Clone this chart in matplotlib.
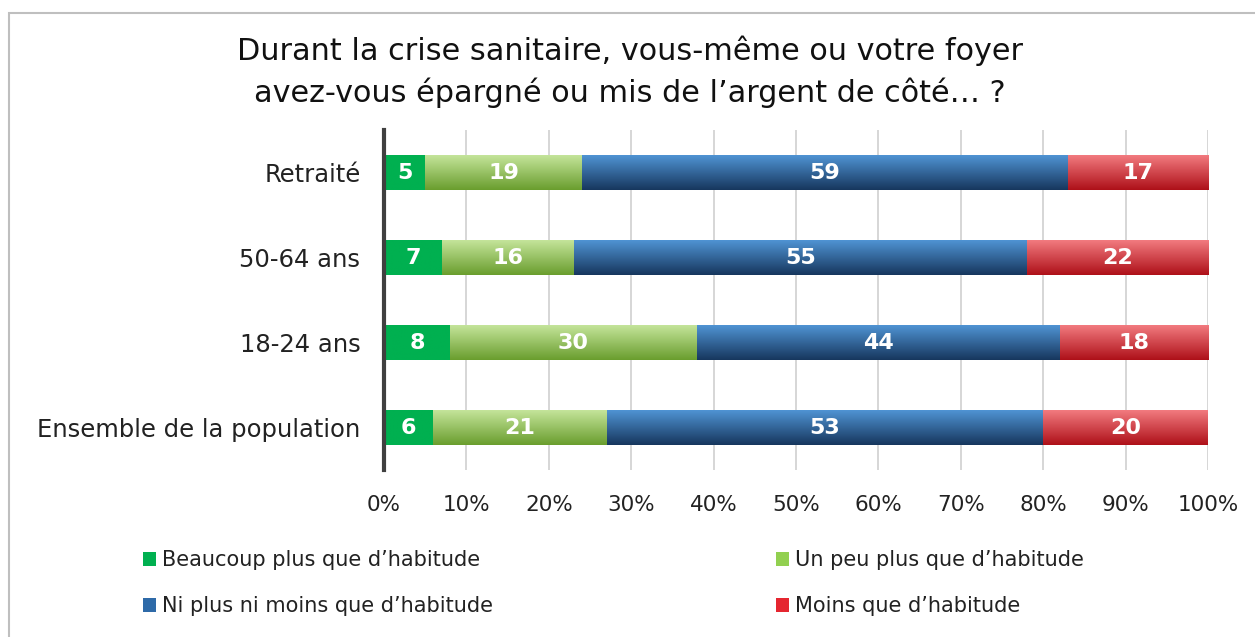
import numpy as np
import matplotlib.pyplot as plt
from matplotlib.colors import LinearSegmentedColormap
from matplotlib.patches import Rectangle

categories = ["Ensemble de la population", "18-24 ans", "50-64 ans", "Retraité"]
series_names = ["Beaucoup plus que d\u2019habitude", "Un peu plus que d\u2019habitude",
                "Ni plus ni moins que d\u2019habitude", "Moins que d\u2019habitude"]
beaucoup = [6, 8, 7, 5]
un_peu = [21, 30, 16, 19]
ni_ni = [53, 44, 55, 59]
moins = [20, 18, 22, 17]
xticks = [0, 10, 20, 30, 40, 50, 60, 70, 80, 90, 100]

series = [beaucoup, un_peu, ni_ni, moins]
# (top colour, bottom colour) of the gradient for each series
grads = [("#00B050", "#00B050"),
         ("#C4E49A", "#6A9E2E"),
         ("#4F93D3", "#17375E"),
         ("#F27A7F", "#AE1119")]
solid = ["#00B050", "#92D050", "#2E6AA8", "#E52630"]

plt.rcParams['font.family'] = ['DejaVu Sans']
fig = plt.figure(figsize=(12.55, 6.37), dpi=100)
ax = fig.add_axes([0.306, 0.2614, 0.6566, 0.5338])

y = np.arange(len(categories))
left = np.zeros(len(categories))
for s, vals in enumerate(series):
    bars = ax.barh(y, vals, left=left, height=0.4, color=solid[s], zorder=3,
                   label=series_names[s])
    cmap = LinearSegmentedColormap.from_list("g%d" % s, [grads[s][1], grads[s][0]])
    for b, v in zip(bars, vals):
        x0, y0 = b.get_x(), b.get_y()
        w, h = b.get_width(), b.get_height()
        grad = np.linspace(0, 1, 64).reshape(-1, 1)
        ax.imshow(grad, extent=[x0, x0 + w, y0, y0 + h], origin='lower',
                  cmap=cmap, aspect='auto', zorder=4, interpolation='bilinear')
        ax.text(x0 + w / 2, y0 + h / 2, str(v), ha='center', va='center',
                color='white', fontsize=16, fontweight='bold', zorder=5)
    left += np.array(vals)

ax.set_xlim(0, 100)
ax.set_ylim(-0.5, 3.5)
ax.set_xticks(xticks)
ax.set_xticklabels(["%d%%" % t for t in xticks], fontsize=15.5, color='#222222')
ax.set_yticks(y)
ax.set_yticklabels(categories, fontsize=17.5, color='#222222')
ax.tick_params(axis='y', length=0, pad=17)
ax.tick_params(axis='x', length=0, pad=18)
ax.grid(axis='x', color='#D0D0D0', linewidth=1.2, zorder=0)
ax.set_axisbelow(True)
for sp in ['top', 'right', 'bottom']:
    ax.spines[sp].set_visible(False)
ax.spines['left'].set_color('#404040')
ax.spines['left'].set_linewidth(3)
ax.spines['left'].set_zorder(6)

fig.text(0.502, 0.887, "Durant la crise sanitaire, vous-même ou votre foyer\n"
         "avez-vous épargné ou mis de l\u2019argent de côté\u2026 ?",
         ha='center', va='center', fontsize=21.8, color='#111111', linespacing=1.45)

handles, labels = ax.get_legend_handles_labels()
order = [0, 2, 1, 3]
leg = fig.legend([handles[i] for i in order], [labels[i] for i in order],
                 loc='upper left', bbox_to_anchor=(0.114, 0.136), ncol=2,
                 frameon=False, fontsize=15, handlelength=0.6, handleheight=0.6,
                 handletextpad=0.3, columnspacing=13.6, labelspacing=1.25,
                 borderaxespad=0, borderpad=0)
for t in leg.get_texts():
    t.set_color('#222222')

fig.patches.append(Rectangle((9 / 1255, -0.05), 1.1, 1 - 13 / 637 + 0.05,
                             transform=fig.transFigure, fill=False,
                             edgecolor='#BFBFBF', linewidth=1.5))

fig.savefig("out.png", dpi=100)
